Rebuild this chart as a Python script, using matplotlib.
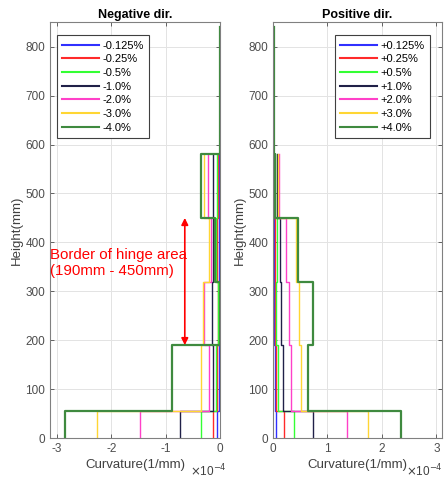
import matplotlib.pyplot as plt
import numpy as np

plt.rcParams['font.family'] = ['Liberation Sans', 'DejaVu Sans']

# section heights (mm)
heights = [0, 55, 190, 320, 450, 580, 840]

labels_neg = ['-0.125%', '-0.25%', '-0.5%', '-1.0%', '-2.0%', '-3.0%', '-4.0%']
labels_pos = ['+0.125%', '+0.25%', '+0.5%', '+1.0%', '+2.0%', '+3.0%', '+4.0%']
colors = ['#3030ff', '#ff2a2a', '#33ff33', '#202048', '#ff40c8', '#ffd633', '#3f8a3f']

# curvature per height section, x1e-4 1/mm (bottom section first)
neg_curv = [
    [-0.06, -0.03, -0.02, -0.03, -0.02],
    [-0.14, -0.05, -0.04, -0.05, -0.04],
    [-0.35, -0.08, -0.04, -0.07, -0.06],
    [-0.74, -0.13, -0.15, -0.13, -0.13],
    [-1.48, -0.20, -0.29, -0.17, -0.23],
    [-2.26, -0.36, -0.31, -0.20, -0.30],
    [-2.85, -0.88, -0.01, -0.105, -0.36, -0.01],
]
pos_curv = [
    [0.06, 0.03, 0.02, 0.02, 0.01],
    [0.21, 0.05, 0.04, 0.04, 0.02],
    [0.39, 0.09, 0.05, 0.08, 0.04],
    [0.73, 0.18, 0.15, 0.13, 0.07],
    [1.36, 0.33, 0.29, 0.24, 0.11],
    [1.75, 0.52, 0.47, 0.42, 0.09],
    [2.35, 0.64, 0.73, 0.45, 0.03, 0.01],
]


def step_profile(vals):
    h = np.array(heights[:len(vals) + 1])
    y = np.repeat(h, 2)[1:-1]
    x = np.repeat(np.array(vals), 2)
    return x, y


def style_axes(ax, title):
    ax.set_title(title, fontsize=9, fontweight='bold', pad=3)
    ax.set_ylim(0, 850)
    ax.set_yticks(range(0, 900, 100))
    ax.grid(True, color='#e3e3e3', linewidth=0.7)
    ax.set_axisbelow(True)
    ax.tick_params(direction='in', top=True, right=True, labelsize=8.5,
                   colors='#4d4d4d', length=3, width=0.6)
    for s in ax.spines.values():
        s.set_color('#808080')
        s.set_linewidth(0.8)
    ax.set_ylabel('Height(mm)', fontsize=9.5, color='#404040', labelpad=2)
    ax.set_xlabel('Curvature(1/mm)', fontsize=9.5, color='#404040', labelpad=3)


fig = plt.figure(figsize=(4.44, 4.82), dpi=100)
ax1 = fig.add_axes([0.113, 0.091, 0.383, 0.863])
ax2 = fig.add_axes([0.615, 0.091, 0.380, 0.863])

for vals, lab, c in zip(neg_curv, labels_neg, colors):
    x, y = step_profile(vals)
    lw = 1.6 if lab == '-4.0%' else 1.0
    ax1.plot(x, y, color=c, linewidth=lw, label=lab)
for vals, lab, c in zip(pos_curv, labels_pos, colors):
    x, y = step_profile(vals)
    lw = 1.6 if lab == '+4.0%' else 1.0
    ax2.plot(x, y, color=c, linewidth=lw, label=lab)

style_axes(ax1, 'Negative dir.')
ax1.set_xlim(-3.12, 0)
ax1.set_xticks([-3, -2, -1, 0])
ax1.set_xticklabels(['-3', '-2', '-1', '0'])

style_axes(ax2, 'Positive dir.')
ax2.set_xlim(0, 3.1)
ax2.set_xticks([0, 1, 2, 3])

# x1e-4 multipliers next to the x labels
ax1.text(0.82, -0.078, r'$\times$10$^{-4}$', transform=ax1.transAxes,
         fontsize=8.5, color='#404040', ha='left', va='center')
fig.text(0.998, 0.091 - 0.078 * 0.863, r'$\times$10$^{-4}$',
         fontsize=8.5, color='#404040', ha='right', va='center')

for ax, loc, anchor in [(ax1, 'upper left', (0.0, 0.985)),
                        (ax2, 'upper right', (0.97, 0.985))]:
    leg = ax.legend(loc=loc, bbox_to_anchor=anchor, fontsize=8,
                    handlelength=3.3, handletextpad=0.3,
                    labelspacing=0.33, borderpad=0.5, fancybox=False,
                    framealpha=1, edgecolor='#404040', borderaxespad=0.6)
    leg.get_frame().set_linewidth(0.8)
    for line in leg.get_lines():
        line.set_linewidth(1.5)

# hinge area annotation
ax1.annotate('', xy=(-0.65, 190), xytext=(-0.65, 450),
             arrowprops=dict(arrowstyle='<|-|>', color='red', lw=1.2,
                             mutation_scale=10, shrinkA=0, shrinkB=0))
ax1.text(-3.12, 358, 'Border of hinge area\n(190mm - 450mm)', color='red',
         fontsize=10.8, ha='left', va='center', linespacing=1.25)

fig.savefig('out.png', dpi=100)
